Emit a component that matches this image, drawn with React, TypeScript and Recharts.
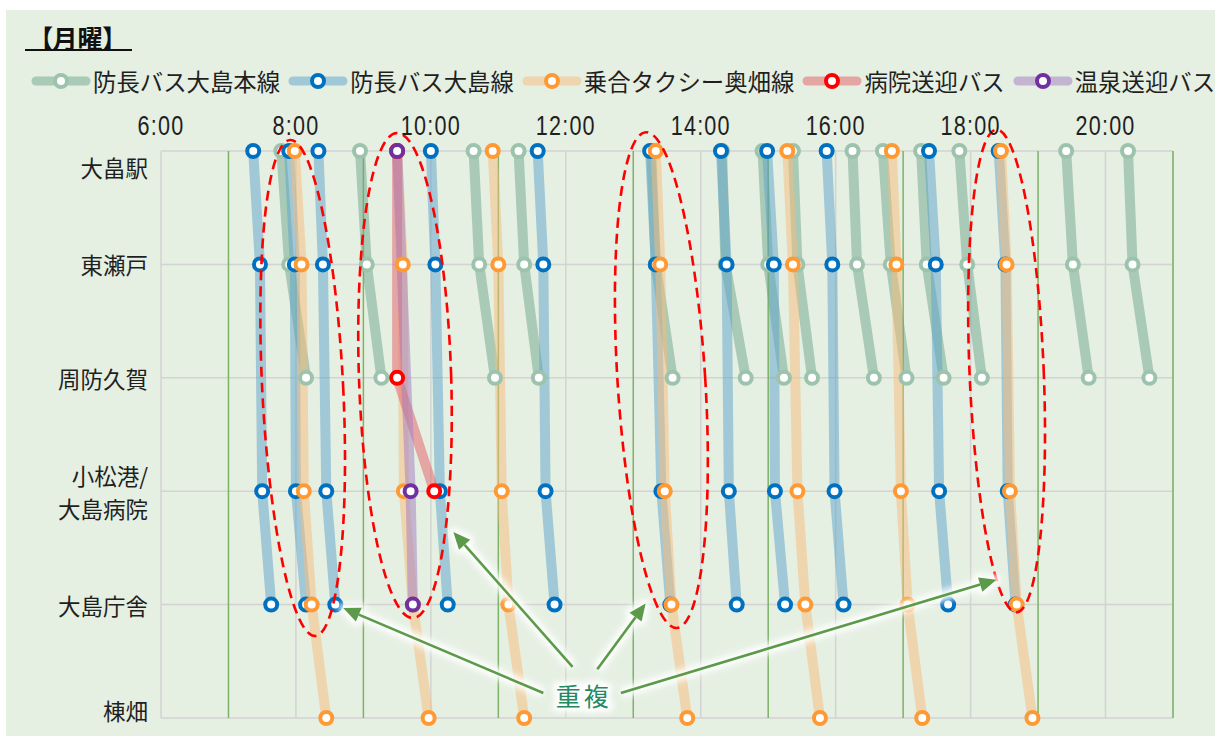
import React from 'react';
import {
  LineChart,
  Line,
  XAxis,
  YAxis,
  CartesianGrid,
  ReferenceLine,
  ReferenceArea,
  ReferenceDot,
} from 'recharts';

const stations = ['大畠駅', '東瀬戸', '周防久賀', '小松港/\n大島病院', '大島庁舎', '棟畑'];
const timeTicks = ['6:00', '8:00', '10:00', '12:00', '14:00', '16:00', '18:00', '20:00'];
const oddHourLines = ['7:00', '9:00', '11:00', '13:00', '15:00', '17:00', '19:00', '21:00'];

// one row per trip, one slot per station (null = no stop)
const honsenTrips = [
  ['7:47', '7:54', '8:09', null, null, null],
  ['8:57', '9:03', '9:16', null, null, null],
  ['10:38', '10:43', '10:57', null, null, null],
  ['11:18', '11:23', '11:36', null, null, null],
  ['13:16', '13:20', '13:35', null, null, null],
  ['14:19', '14:22', '14:40', null, null, null],
  ['14:55', '15:00', '15:14', null, null, null],
  ['15:22', '15:26', '15:39', null, null, null],
  ['16:15', '16:19', '16:34', null, null, null],
  ['16:42', '16:49', '17:03', null, null, null],
  ['17:16', '17:21', '17:36', null, null, null],
  ['17:50', '17:57', '18:10', null, null, null],
  ['19:25', '19:31', '19:45', null, null, null],
  ['20:20', '20:24', '20:39', null, null, null],
];

const oshimaTrips = [
  ['7:22', '7:28', null, '7:30', '7:38', null],
  ['7:54', '7:59', null, '8:00', '8:09', null],
  ['8:20', '8:24', null, '8:27', '8:35', null],
  ['10:00', '10:04', null, '10:08', '10:15', null],
  ['11:35', '11:40', null, '11:42', '11:50', null],
  ['13:15', '13:20', null, '13:25', '13:33', null],
  ['14:18', '14:23', null, '14:25', '14:32', null],
  ['14:59', '15:05', null, '15:06', '15:15', null],
  ['15:52', '15:57', null, '15:59', '16:07', null],
  ['17:23', '17:29', null, '17:32', '17:40', null],
  ['18:25', '18:31', null, '18:33', '18:40', null],
];

const taxiTrips = [
  ['7:59', '8:05', null, '8:07', '8:14', '8:27'],
  ['9:30', '9:35', null, '9:36', '9:44', '9:58'],
  ['10:55', '11:00', null, '11:03', '11:09', '11:23'],
  ['13:20', '13:24', null, '13:28', '13:34', '13:48'],
  ['15:17', '15:22', null, '15:26', '15:33', '15:46'],
  ['16:50', '16:54', null, '16:58', '17:04', '17:17'],
  ['18:27', '18:32', null, '18:35', '18:41', '18:55'],
];

const hospitalTrips = [['9:30', null, '9:30', '10:03', null, null]];

const onsenTrips = [['9:30', null, null, '9:42', '9:44', null]];

// dashed "overlap" rings: centre (min, station), half size, tilt in degrees
const overlapRings = [
  { t: 486, s: 2.09, dt: 36, ds: 2.19, tilt: -2.9 },
  { t: 577, s: 1.98, dt: 41, ds: 2.14, tilt: -1.9 },
  { t: 805, s: 2.02, dt: 39, ds: 2.19, tilt: -3.6 },
  { t: 1112, s: 1.94, dt: 33, ds: 2.13, tilt: -2.4 },
];

const noteLabel = { t: 736, s: 4.8, text: '重複' };
const noteArrows = [
  { from: [700, 4.78], to: [522, 4.03] },
  { from: [726, 4.55], to: [620, 3.36] },
  { from: [748, 4.57], to: [791, 3.99] },
  { from: [769, 4.78], to: [1103, 3.78] },
];

const routes = [
  { name: '防長バス大島本線', trips: honsenTrips, line: '#6BA58A', mark: '#9DC3AC' },
  { name: '防長バス大島線', trips: oshimaTrips, line: '#5BA1CA', mark: '#0070C0' },
  { name: '乗合タクシー奥畑線', trips: taxiTrips, line: '#F9BB7A', mark: '#FF9933' },
  { name: '病院送迎バス', trips: hospitalTrips, line: '#E55D64', mark: '#FF0000' },
  { name: '温泉送迎バス', trips: onsenTrips, line: '#A17BC2', mark: '#7030A0' },
];

const toMin = (s: string) => {
  const [h, m] = s.split(':').map(Number);
  return h * 60 + m;
};

const tickMinutes = timeTicks.map(toMin);

const tripPoints = (trip: (string | null)[]) =>
  trip
    .map((v, i) => (v ? { t: toMin(v), s: i } : null))
    .filter((p) => p !== null) as { t: number; s: number }[];

const CJK = '"Noto Sans CJK JP", "Noto Sans", sans-serif';
const LINE_OPACITY = 0.5;

function TimeTick({ x, y, payload }: any) {
  const label = timeTicks[tickMinutes.indexOf(payload.value)] ?? '';
  // narrow look: Liberation Sans squeezed horizontally
  return (
    <text
      transform={`translate(${x},${y - 16}) scale(0.8,1)`}
      textAnchor="middle"
      fontSize={27}
      letterSpacing={1.5}
      fill="#1f1f1f"
      fontFamily='"Liberation Sans", Arial, sans-serif'
    >
      {label}
    </text>
  );
}

function StationTick({ x, y, payload }: any) {
  const i = payload.value;
  const lines = (stations[i] ?? '').split('\n');
  // Excel pulls the first / last label inside the plot
  const shift = i === 0 ? 16 : i === stations.length - 1 ? -8 : 0;
  return (
    <g>
      {lines.map((l, k) => (
        <text
          key={k}
          x={x}
          y={y + shift + (k - (lines.length - 1) / 2) * 33}
          textAnchor="end"
          dominantBaseline="central"
          fontSize={22.5}
          fill="#1f1f1f"
          fontFamily={CJK}
        >
          {l}
        </text>
      ))}
    </g>
  );
}

function Ring({ x, y, width, height, tilt }: any) {
  const cx = x + width / 2;
  const cy = y + height / 2;
  return (
    <ellipse
      cx={cx}
      cy={cy}
      rx={width / 2}
      ry={height / 2}
      transform={`rotate(${tilt} ${cx} ${cy})`}
      fill="none"
      stroke="#FF0000"
      strokeWidth={2.6}
      strokeDasharray="10 6"
    />
  );
}

function Arrow({ x1, y1, x2, y2 }: any) {
  const a = Math.atan2(y2 - y1, x2 - x1);
  const len = 17;
  const half = 7.5;
  const bx = x2 - len * Math.cos(a);
  const by = y2 - len * Math.sin(a);
  const pts = `${x2},${y2} ${bx + half * Math.sin(a)},${by - half * Math.cos(a)} ${bx - half * Math.sin(a)},${by + half * Math.cos(a)}`;
  const green = '#5B9A49';
  return (
    <g>
      <g filter="url(#glow)" opacity={0.95}>
        <line x1={x1} y1={y1} x2={bx} y2={by} stroke="#fff" strokeWidth={11} />
        <polygon points={pts} fill="#fff" stroke="#fff" strokeWidth={9} strokeLinejoin="round" />
      </g>
      <line x1={x1} y1={y1} x2={bx} y2={by} stroke={green} strokeWidth={2.6} />
      <polygon points={pts} fill={green} />
    </g>
  );
}

function NoteText({ cx, cy }: any) {
  const common = {
    x: cx,
    y: cy,
    textAnchor: 'middle' as const,
    dominantBaseline: 'central' as const,
    fontSize: 25,
    letterSpacing: 3,
    fontFamily: CJK,
  };
  return (
    <g>
      <text {...common} fill="#fff" stroke="#fff" strokeWidth={8} filter="url(#glow)">
        {noteLabel.text}
      </text>
      <text {...common} fill="#23895F">
        {noteLabel.text}
      </text>
    </g>
  );
}

function LegendSwatch({ line, mark }: { line: string; mark: string }) {
  return (
    <svg width={60} height={22} style={{ display: 'block' }}>
      <line x1={5} y1={11} x2={55} y2={11} stroke={line} strokeOpacity={LINE_OPACITY} strokeWidth={9} strokeLinecap="round" />
      <circle cx={30} cy={11} r={6} fill="#fff" stroke={mark} strokeWidth={4} />
    </svg>
  );
}

export default function App() {
  return (
    <div style={{ position: 'absolute', left: 0, top: 0, width: 1215, height: 736, background: '#fff', overflow: 'hidden' }}>
      <div style={{ position: 'absolute', left: 6, top: 10, right: 0, bottom: 0, background: '#E5EFE2' }} />
      <svg width={0} height={0} style={{ position: 'absolute' }}>
        <defs>
          <filter id="glow" filterUnits="userSpaceOnUse" x={-100} y={-100} width={1500} height={1000}>
            <feGaussianBlur stdDeviation={3} />
          </filter>
        </defs>
      </svg>

      {/* title */}
      <div
        style={{
          position: 'absolute',
          left: 40,
          top: 25,
          fontFamily: CJK,
          fontWeight: 700,
          fontSize: 25,
          lineHeight: '25px',
          color: '#111',
          fontFeatureSettings: '"palt"',
          whiteSpace: 'nowrap',
        }}
      >
        【月曜】
      </div>
      <div style={{ position: 'absolute', left: 25, top: 49, width: 107, height: 2, background: '#111' }} />

      {/* legend */}
      <div style={{ position: 'absolute', left: 31, top: 70, height: 22, display: 'flex', alignItems: 'center', whiteSpace: 'nowrap' }}>
        {routes.map((r) => (
          <div key={r.name} style={{ display: 'flex', alignItems: 'center', marginRight: 8 }}>
            <LegendSwatch line={r.line} mark={r.mark} />
            <span style={{ marginLeft: 2, fontFamily: CJK, fontSize: 23.4, lineHeight: '22px', color: '#1f1f1f' }}>{r.name}</span>
          </div>
        ))}
      </div>

      <div style={{ position: 'absolute', left: 0, top: 0 }}>
        <LineChart width={1215} height={736} margin={{ top: 121, right: 42, bottom: 18, left: 0 }}>
          <CartesianGrid stroke="#D3D3D3" strokeWidth={1.5} />
          <XAxis
            type="number"
            dataKey="t"
            orientation="top"
            domain={[360, 1260]}
            ticks={tickMinutes}
            interval={0}
            axisLine={false}
            tickLine={false}
            tickSize={0}
            tickMargin={0}
            height={30}
            tick={<TimeTick />}
            allowDataOverflow
          />
          <YAxis
            type="number"
            dataKey="s"
            domain={[0, 5]}
            reversed
            ticks={[0, 1, 2, 3, 4, 5]}
            interval={0}
            axisLine={false}
            tickLine={false}
            tickSize={0}
            tickMargin={13}
            width={161}
            tick={<StationTick />}
          />
          {oddHourLines.map((h) => (
            <ReferenceLine key={h} x={toMin(h)} stroke="#7DB268" strokeWidth={1.5} ifOverflow="visible" zIndex={-50} />
          ))}
          {routes.map((r, ri) =>
            r.trips.map((trip, ti) => (
              <Line
                key={`${ri}-${ti}`}
                data={tripPoints(trip)}
                dataKey="s"
                type="linear"
                stroke={r.line}
                strokeOpacity={LINE_OPACITY}
                strokeWidth={10}
                strokeLinejoin="round"
                dot={{ r: 6, stroke: r.mark, strokeWidth: 4, strokeOpacity: 1, fill: '#fff', fillOpacity: 1 }}
                activeDot={false}
                legendType="none"
                isAnimationActive={false}
              />
            ))
          )}
          {overlapRings.map((o, i) => (
            <ReferenceArea
              key={`ring-${i}`}
              x1={o.t - o.dt}
              x2={o.t + o.dt}
              y1={o.s - o.ds}
              y2={o.s + o.ds}
              ifOverflow="visible"
              zIndex={1500}
              shape={(p: any) => <Ring {...p} tilt={o.tilt} />}
            />
          ))}
          {noteArrows.map((a, i) => (
            <ReferenceLine
              key={`arrow-${i}`}
              segment={[
                { x: a.from[0], y: a.from[1] },
                { x: a.to[0], y: a.to[1] },
              ]}
              ifOverflow="visible"
              zIndex={1600}
              shape={(p: any) => <Arrow {...p} />}
            />
          ))}
          <ReferenceDot
            x={noteLabel.t}
            y={noteLabel.s}
            r={0}
            ifOverflow="visible"
            zIndex={1700}
            shape={(p: any) => <NoteText {...p} />}
          />
        </LineChart>
      </div>
    </div>
  );
}
